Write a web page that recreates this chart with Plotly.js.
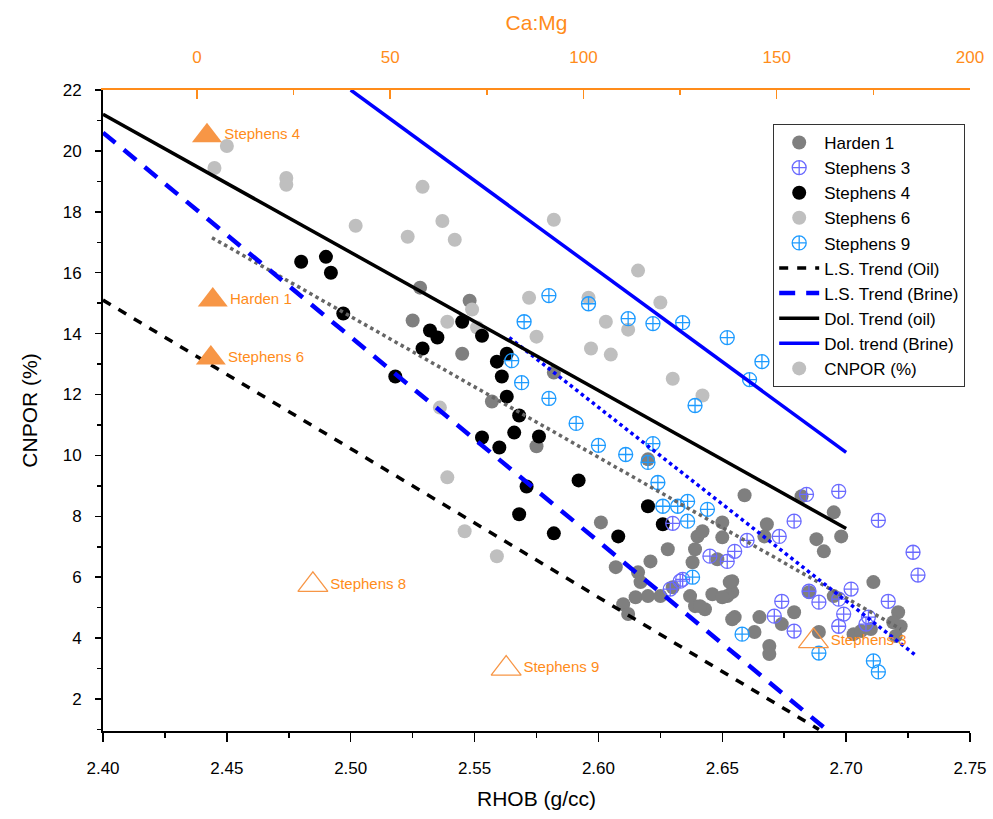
<!DOCTYPE html>
<html>
<head>
<meta charset="utf-8">
<script src="https://cdn.plot.ly/plotly-3.0.1.min.js"></script>
<style>html,body{margin:0;padding:0;background:#fff}#chart{width:993px;height:819px}</style>
</head>
<body>
<div id="chart"></div>
<script>
// ---------- data ----------
const harden1_rhob = [2.528,2.548,2.525,2.545,2.557,2.575,2.582,2.620,2.601,2.607,2.621,2.628,2.616,2.617,2.610,2.612,2.615,2.620,2.625,2.630,2.640,2.642,2.639,2.638,2.637,2.639,2.643,2.646,2.650,2.650,2.648,2.654,2.654,2.652,2.655,2.659,2.668,2.667,2.688,2.691,2.695,2.698,2.682,2.711,2.685,2.695,2.703,2.706,2.710,2.721,2.722,2.719,2.720,2.653,2.650,2.641,2.654,2.665,2.663,2.679,2.674,2.669,2.669,2.689];
const harden1_cnpor = [15.51,15.08,14.43,13.34,11.77,10.30,12.72,9.87,7.80,6.33,6.52,6.92,6.16,5.84,5.11,4.79,5.34,5.38,5.38,5.67,7.34,7.51,6.92,6.49,5.38,5.05,4.95,5.44,7.80,7.31,6.59,5.87,5.51,5.38,4.69,8.69,7.74,7.34,7.25,6.85,8.13,7.34,8.66,5.84,5.51,5.38,4.13,4.23,4.30,4.85,4.39,4.52,4.07,5.84,5.34,5.05,4.62,4.69,4.20,4.85,4.46,3.74,3.48,4.20];

const stephens6_rhob = [2.450,2.445,2.474,2.474,2.502,2.523,2.529,2.537,2.542,2.582,2.616,2.572,2.596,2.575,2.603,2.612,2.597,2.605,2.625,2.630,2.642,2.549,2.539,2.551,2.536,2.539,2.546,2.559];
const stephens6_cnpor = [20.16,19.44,19.11,18.89,17.54,17.18,18.82,17.70,17.08,17.74,16.07,15.18,15.18,13.90,14.39,14.13,13.51,13.31,15.02,12.52,11.97,14.79,14.39,14.20,11.57,9.28,7.51,6.69];

const stephens4_rhob = [2.480,2.490,2.492,2.497,2.518,2.529,2.532,2.535,2.545,2.553,2.559,2.561,2.563,2.563,2.568,2.566,2.576,2.553,2.560,2.592,2.571,2.568,2.582,2.620,2.626,2.608];
const stephens4_cnpor = [16.36,16.52,16.00,14.66,12.59,13.51,14.10,13.87,14.39,13.93,13.08,12.59,13.34,11.93,11.31,10.75,10.62,10.59,10.26,9.18,8.98,8.07,7.44,8.33,7.74,7.34];

const stephens3_rhob = [2.684,2.697,2.713,2.679,2.673,2.660,2.645,2.652,2.655,2.727,2.729,2.702,2.685,2.689,2.697,2.674,2.671,2.679,2.699,2.697,2.709,2.708,2.717,2.634,2.630,2.633,2.629];
const stephens3_cnpor = [8.72,8.82,7.87,7.84,7.34,7.21,6.69,6.52,6.85,6.82,6.07,5.61,5.54,5.18,5.28,5.21,4.72,4.23,4.79,4.39,4.69,4.46,5.21,5.93,7.77,5.87,5.61];

const stephens9_rhob = [2.580,2.570,2.596,2.612,2.622,2.634,2.652,2.666,2.661,2.639,2.565,2.569,2.580,2.591,2.600,2.611,2.622,2.620,2.624,2.626,2.632,2.636,2.644,2.636,2.638,2.658,2.689,2.711,2.713];
const stephens9_cnpor = [15.25,14.39,14.98,14.49,14.33,14.36,13.87,13.08,12.49,11.64,13.11,12.39,11.87,11.05,10.33,10.03,10.39,9.77,9.11,8.33,8.33,8.49,8.23,7.84,6.00,4.13,3.51,3.25,2.89];

// trend lines (end points)
const lsOil_rhob = [2.400, 2.689];   const lsOil_cnpor = [15.1, 1.0];
const lsBrine_rhob = [2.400, 2.692]; const lsBrine_cnpor = [20.6, 1.0];
const dolOil_rhob = [2.400, 2.700];  const dolOil_cnpor = [21.2, 7.6];
const dolBrine_rhob = [2.500, 2.700]; const dolBrine_cnpor = [22.0, 10.1];
const harden1Trend_rhob = [2.444, 2.722]; const harden1Trend_cnpor = [17.15, 4.3];
const stephens3Trend_rhob = [2.564, 2.728]; const stephens3Trend_cnpor = [13.87, 3.44];

// Ca:Mg points (top axis)
const camgFilled_names = ["Stephens 4", "Harden 1", "Stephens 6"];
const camgFilled_ratio = [2.6, 4.1, 3.6];
const camgFilled_cnpor = [20.5, 15.1, 13.2];
const camgOpen_names = ["Stephens 8", "Stephens 9", "Stephens 3"];
const camgOpen_ratio = [30.0, 80.0, 159.5];
const camgOpen_cnpor = [5.75, 3.0, 3.9];

// ---------- traces ----------
const ORANGE = '#ff8c1a';
const TRI = '#f79646';
const FONT = 'Liberation Sans, Arial, sans-serif';

const traces = [
  {x: harden1_rhob, y: harden1_cnpor, name: 'Harden 1', mode: 'markers', type: 'scatter', legendrank: 1,
   marker: {color: '#7f7f7f', size: 14}},
  {x: stephens6_rhob, y: stephens6_cnpor, name: 'Stephens 6', mode: 'markers', type: 'scatter', legendrank: 4,
   marker: {color: '#bfbfbf', size: 14}},
  {x: stephens4_rhob, y: stephens4_cnpor, name: 'Stephens 4', mode: 'markers', type: 'scatter', legendrank: 3,
   marker: {color: '#000000', size: 14}},
  {x: stephens3_rhob, y: stephens3_cnpor, name: 'Stephens 3', mode: 'markers', type: 'scatter', legendrank: 2,
   marker: {color: '#6a6aff', size: 14, symbol: 'circle-cross-open', line: {width: 1.3}}},
  {x: stephens9_rhob, y: stephens9_cnpor, name: 'Stephens 9', mode: 'markers', type: 'scatter', legendrank: 5,
   marker: {color: '#1e9bff', size: 14, symbol: 'circle-cross-open', line: {width: 1.3}}},
  {x: harden1Trend_rhob, y: harden1Trend_cnpor, mode: 'lines', type: 'scatter', showlegend: false, hoverinfo: 'skip',
   line: {color: '#666666', width: 3.5, dash: 'dot'}},
  {x: stephens3Trend_rhob, y: stephens3Trend_cnpor, mode: 'lines', type: 'scatter', showlegend: false, hoverinfo: 'skip',
   line: {color: '#0000ff', width: 3.5, dash: 'dot'}},
  {x: lsOil_rhob, y: lsOil_cnpor, name: 'L.S. Trend (Oil)', mode: 'lines', type: 'scatter', legendrank: 6,
   line: {color: '#000000', width: 3.5, dash: '9px,9px'}},
  {x: lsBrine_rhob, y: lsBrine_cnpor, name: 'L.S. Trend (Brine)', mode: 'lines', type: 'scatter', legendrank: 7,
   line: {color: '#0000ff', width: 4.5, dash: '16px,11px'}},
  {x: dolOil_rhob, y: dolOil_cnpor, name: 'Dol. Trend (oil)', mode: 'lines', type: 'scatter', legendrank: 8,
   line: {color: '#000000', width: 3.5}},
  {x: dolBrine_rhob, y: dolBrine_cnpor, name: 'Dol. trend (Brine)', mode: 'lines', type: 'scatter', legendrank: 9,
   line: {color: '#0000ff', width: 3.5}},
  {x: [null], y: [null], name: 'CNPOR (%)', mode: 'markers', type: 'scatter', legendrank: 10,
   marker: {color: '#bfbfbf', size: 14}},
  {x: camgFilled_ratio, y: camgFilled_cnpor, text: camgFilled_names, xaxis: 'x2', yaxis: 'y',
   mode: 'markers+text', type: 'scatter', showlegend: false, textposition: 'middle right',
   textfont: {color: ORANGE, size: 15, family: FONT},
   marker: {symbol: 'triangle-up', size: 26, color: TRI}},
  {x: camgOpen_ratio, y: camgOpen_cnpor, text: camgOpen_names, xaxis: 'x2', yaxis: 'y',
   mode: 'markers+text', type: 'scatter', showlegend: false, textposition: 'middle right',
   textfont: {color: ORANGE, size: 15, family: FONT},
   marker: {symbol: 'triangle-up-open', size: 26, color: TRI, line: {width: 1.3}}}
];

const layout = {
  width: 993, height: 819,
  margin: {l: 103, r: 23, t: 90, b: 88},
  paper_bgcolor: '#ffffff', plot_bgcolor: '#ffffff',
  font: {family: FONT, size: 16, color: '#000'},
  showlegend: true,
  legend: {x: 0.773, y: 0.947, xanchor: 'left', yanchor: 'top', bgcolor: '#ffffff',
           bordercolor: '#333333', borderwidth: 1, font: {size: 17, family: FONT},
           traceorder: 'normal', itemwidth: 40},
  xaxis: {range: [2.40, 2.75], tick0: 2.40, dtick: 0.05, tickformat: '.2f',
          ticks: 'outside', ticklen: 9, tickwidth: 1.5, tickcolor: '#000',
          minor: {dtick: 0.025, ticks: 'outside', ticklen: 5, tickwidth: 1.5, tickcolor: '#000'},
          showline: true, linecolor: '#000', linewidth: 2, showgrid: false, zeroline: false,
          tickfont: {size: 17}, ticklabelstandoff: 12,
          title: {text: 'RHOB (g/cc)', font: {size: 21}, standoff: 14}},
  yaxis: {range: [0.95, 22], tick0: 2, dtick: 2,
          ticks: 'outside', ticklen: 6, tickwidth: 1.5, tickcolor: '#000',
          minor: {dtick: 1, ticks: 'outside', ticklen: 4, tickwidth: 1.5, tickcolor: '#000'},
          showline: true, linecolor: '#000', linewidth: 2, showgrid: false, zeroline: false,
          tickfont: {size: 17}, ticklabelstandoff: 10,
          title: {text: 'CNPOR (%)', font: {size: 21}, standoff: 19}},
  xaxis2: {overlaying: 'x', side: 'top', anchor: 'y', range: [-24.3, 200], tick0: 0, dtick: 50,
           ticks: 'inside', ticklen: 9, tickwidth: 1.5, tickcolor: ORANGE,
           minor: {dtick: 25, ticks: 'inside', ticklen: 5, tickwidth: 1.5, tickcolor: ORANGE},
           showline: true, linecolor: ORANGE, linewidth: 2, showgrid: false, zeroline: false,
           tickfont: {size: 17, color: ORANGE}, ticklabelstandoff: 18,
           title: {text: 'Ca:Mg', font: {size: 21, color: ORANGE}, standoff: 12}}
};

Plotly.newPlot('chart', traces, layout, {displayModeBar: false, staticPlot: true});
</script>
</body>
</html>
